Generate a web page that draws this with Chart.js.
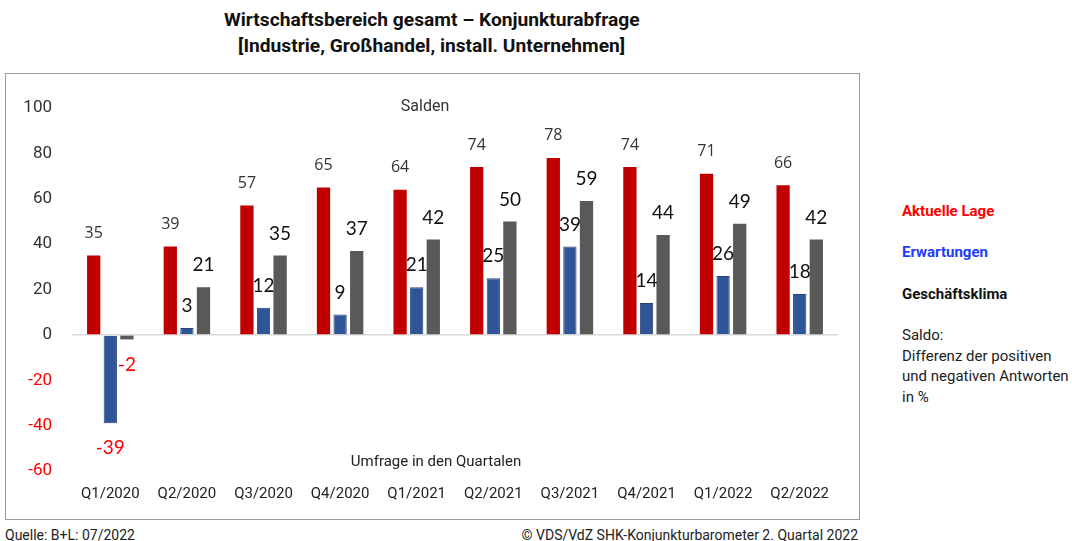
<!DOCTYPE html>
<html>
<head>
<meta charset="utf-8">
<script src="https://cdn.jsdelivr.net/npm/chart.js@4"></script>
<style>
    body { margin: 0; background: #fff; font-family: Roboto, sans-serif; }
    .abs { position: absolute; white-space: nowrap; }
    #title { left: 4px; width: 856px; top: 7px; text-align: center; font-weight: bold; font-size: 19px; line-height: 26px; color: #111; }
    #title span { display: inline-block; transform: scaleX(1.01); }
    #box { position: absolute; left: 5px; top: 73px; width: 853px; height: 445px; border: 1px solid #9a9a9a; }
    .legend { left: 902px; font-size: 15px; font-weight: bold; }
    #saldo { left: 902px; top: 325px; font-size: 15px; line-height: 20.5px; color: #222; }
    .foot { top: 527px; font-size: 14px; color: #222; }
</style>
</head>
<body>
<div id="title" class="abs"><span>Wirtschaftsbereich gesamt – Konjunkturabfrage</span><br><span>[Industrie, Großhandel, install. Unternehmen]</span></div>
<div id="box"><canvas id="chart" width="853" height="445"></canvas></div>
<div class="abs" style="left:425px;top:96px;transform:translateX(-50%);font-size:16px;color:#333">Salden</div>
<div class="abs" style="left:436px;top:452px;transform:translateX(-50%);font-size:15px;color:#222">Umfrage in den Quartalen</div>
<div class="abs legend" style="top:202px;color:#ff0000">Aktuelle Lage</div>
<div class="abs legend" style="top:243px;color:#1f3cff">Erwartungen</div>
<div class="abs legend" style="top:285px;color:#111">Geschäftsklima</div>
<div id="saldo" class="abs">Saldo:<br>Differenz der positiven<br>und negativen Antworten<br>in %</div>
<div class="abs foot" style="left:5px">Quelle: B+L: 07/2022</div>
<div class="abs foot" style="right:214px">© VDS/VdZ SHK-Konjunkturbarometer 2. Quartal 2022</div>

<script>
const quartale = ['Q1/2020', 'Q2/2020', 'Q3/2020', 'Q4/2020', 'Q1/2021', 'Q2/2021', 'Q3/2021', 'Q4/2021', 'Q1/2022', 'Q2/2022']
const aktuelleLage = [35, 39, 57, 65, 64, 74, 78, 74, 71, 66]
const erwartungen = [-39, 3, 12, 9, 21, 25, 39, 14, 26, 18]
const geschaeftsklima = [-2, 21, 35, 37, 42, 50, 59, 44, 49, 42]

// draws the value labels above (or below, for negatives) each bar
const valueLabels = {
    id: 'valueLabels',
    afterDatasetsDraw(chart) {
        const ctx = chart.ctx
        ctx.save()
        ctx.textAlign = 'center'
        ctx.textBaseline = 'middle'
        chart.data.datasets.forEach((ds, i) => {
            const meta = chart.getDatasetMeta(i)
            meta.data.forEach((bar, j) => {
                const v = ds.data[j]
                ctx.font = ds.labelFont
                ctx.fillStyle = v < 0 ? '#ff0000' : ds.labelColor
                const y = v < 0 ? bar.y + 25 : bar.y - 22
                ctx.fillText(String(v), bar.x, y)
            })
        })
        ctx.restore()
    }
}

new Chart('chart', {
    type: 'bar',
    data: {
        labels: quartale,
        datasets: [{
            label: 'Aktuelle Lage',
            data: aktuelleLage,
            backgroundColor: '#c00000',
            labelFont: '16px "Open Sans"',
            labelColor: '#333'
        }, {
            label: 'Erwartungen',
            data: erwartungen,
            backgroundColor: '#2f5597',
            borderColor: '#24447a',
            borderWidth: 1,
            labelFont: '19px Lato',
            labelColor: '#111'
        }, {
            label: 'Geschäftsklima',
            data: geschaeftsklima,
            backgroundColor: '#595959',
            labelFont: '19px Lato',
            labelColor: '#111'
        }]
    },
    options: {
        responsive: false,
        animation: false,
        categoryPercentage: 0.65,
        barPercentage: 0.8,
        layout: { padding: { top: 34, bottom: 14, left: 6, right: 21 } },
        plugins: {
            legend: { display: false },
            tooltip: { enabled: false }
        },
        scales: {
            x: {
                afterFit: (scale) => { scale.height = 34 },
                grid: { display: false, drawTicks: false },
                border: { display: false },
                ticks: { padding: 14, maxRotation: 0, color: '#222', font: { family: 'Roboto', size: 15 } }
            },
            y: {
                min: -60,
                max: 100,
                afterFit: (scale) => { scale.width = 60 },
                border: { display: false },
                grid: {
                    drawTicks: false,
                    color: (c) => c.tick && c.tick.value === 0 ? '#d9d9d9' : 'transparent',
                    lineWidth: 1.5
                },
                ticks: {
                    stepSize: 20,
                    padding: 20,
                    color: (c) => c.tick.value < 0 ? '#ff0000' : '#333',
                    font: { family: 'Roboto', size: 17 }
                }
            }
        }
    },
    plugins: [valueLabels]
})
</script>
</body>
</html>
